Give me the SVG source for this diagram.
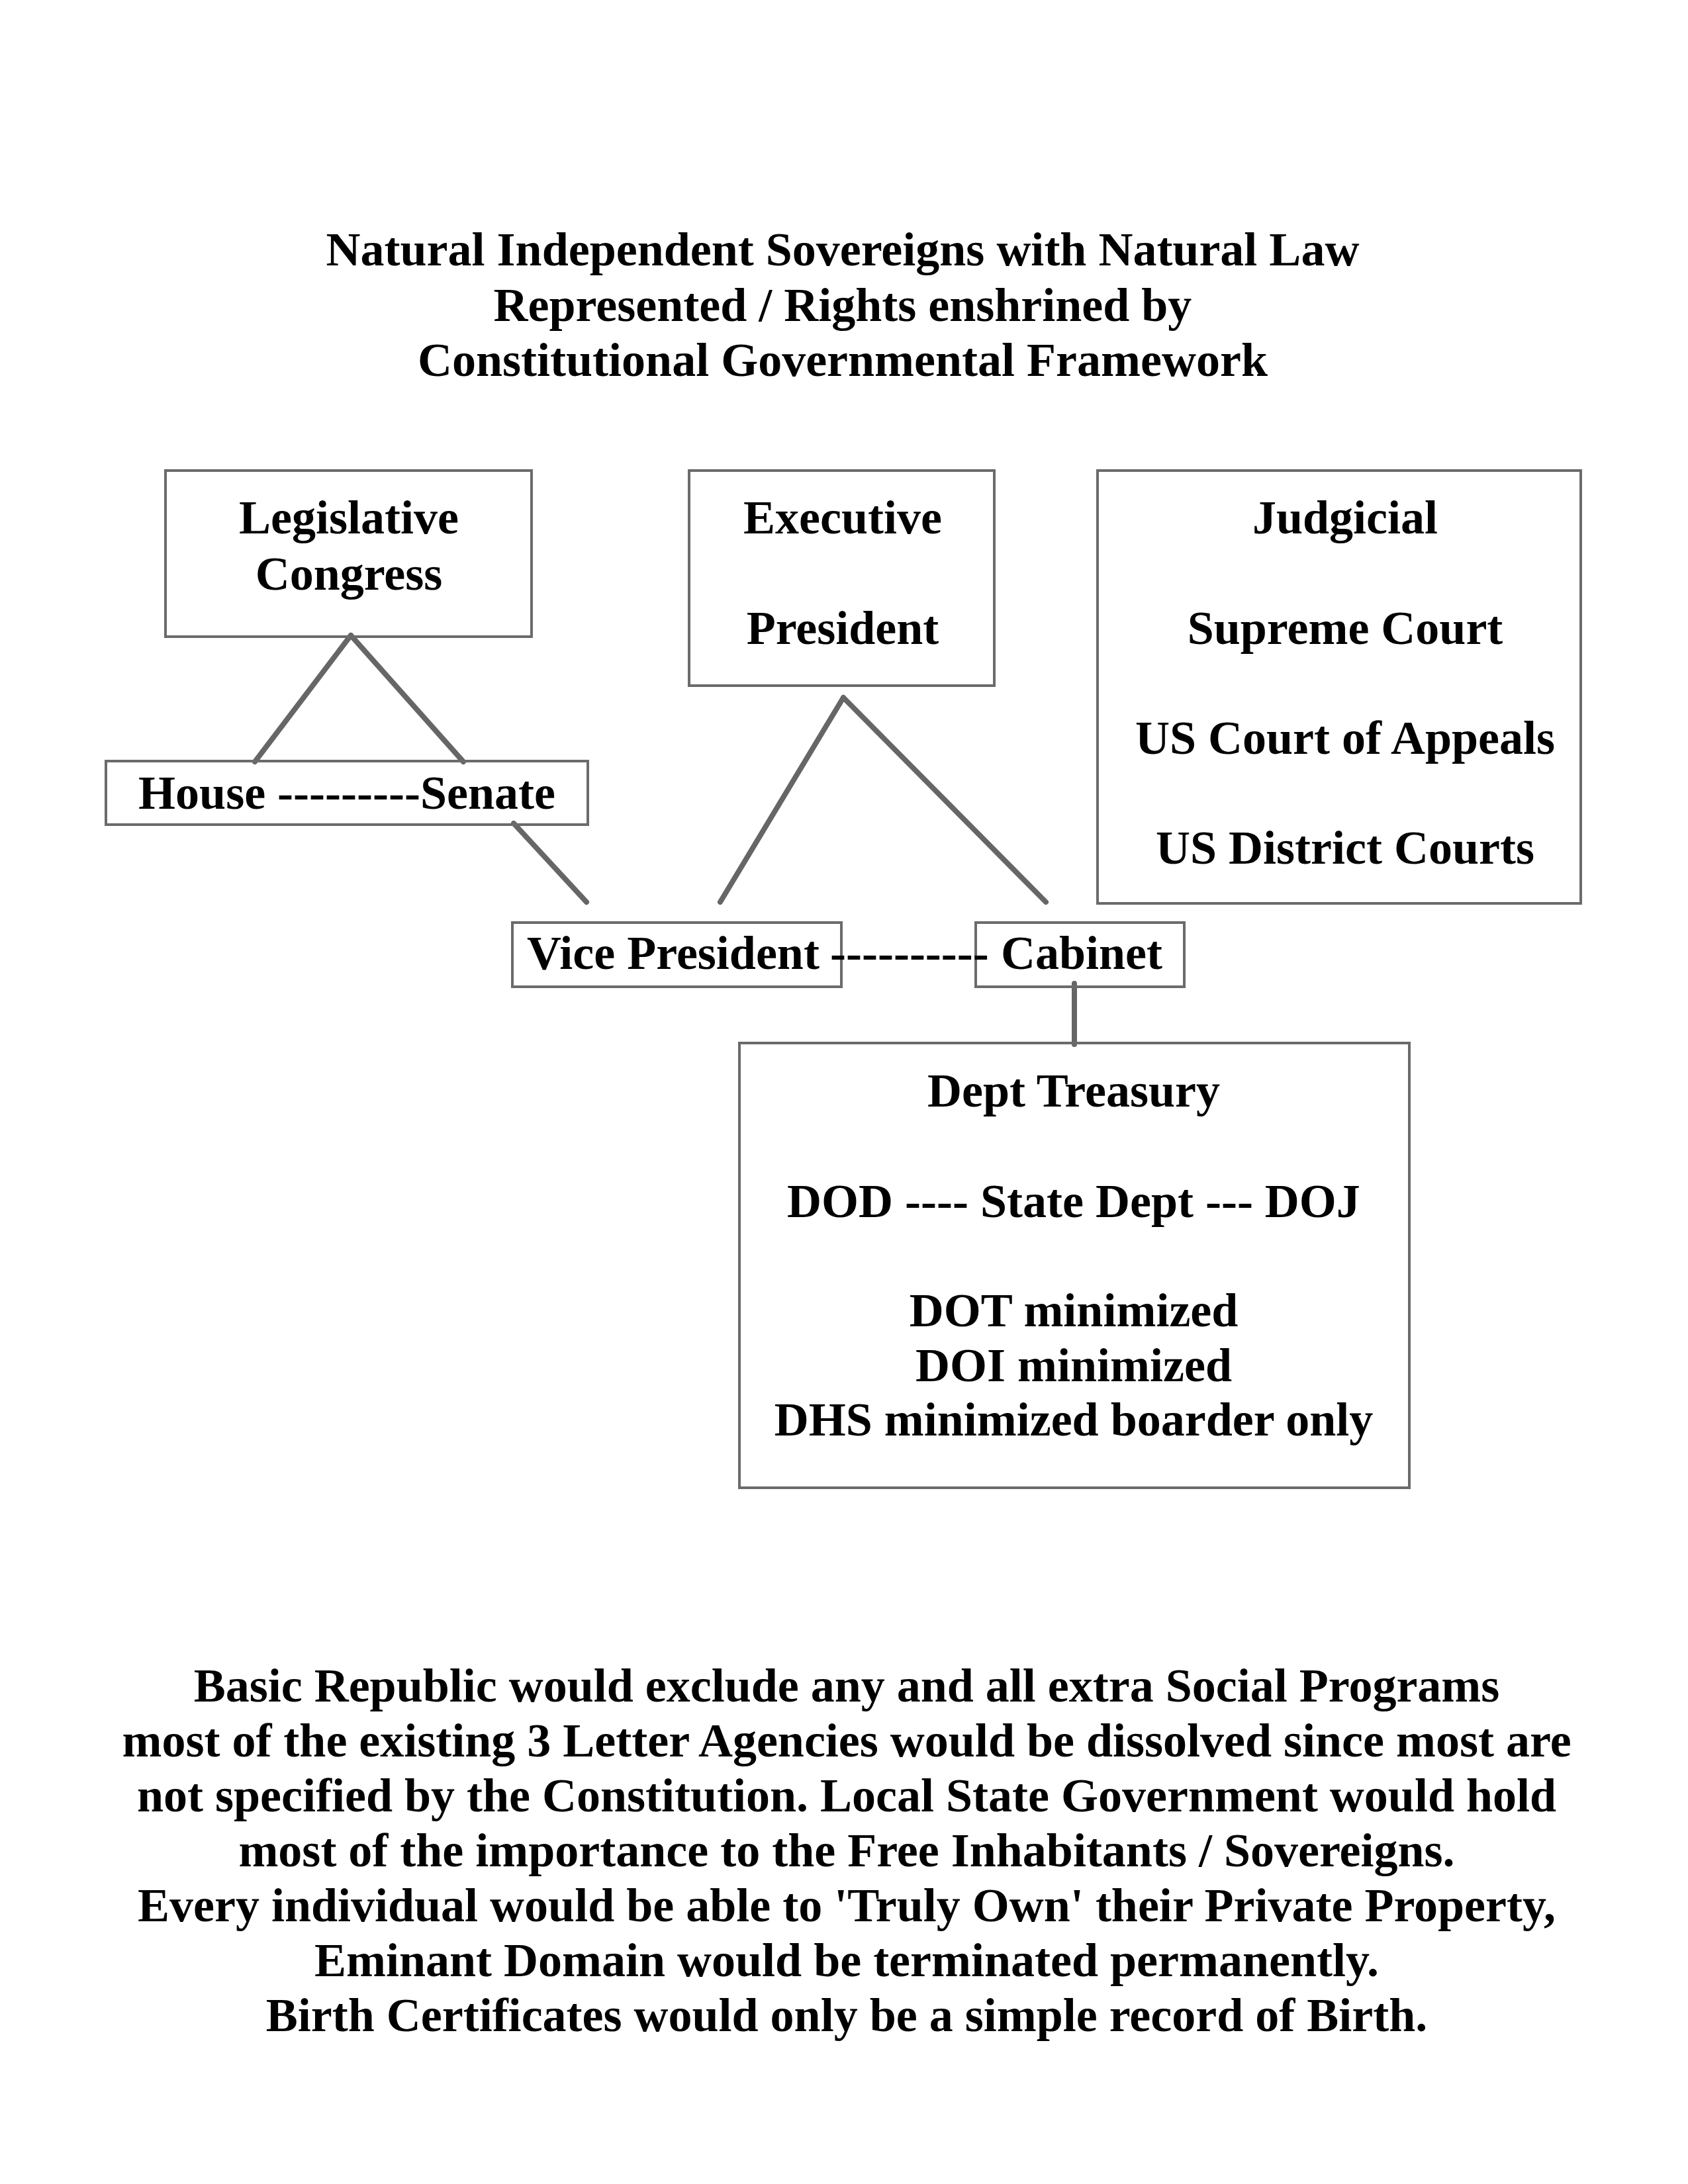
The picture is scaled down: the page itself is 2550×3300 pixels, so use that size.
<svg xmlns="http://www.w3.org/2000/svg" width="2550" height="3300" viewBox="0 0 2550 3300">
<style>
text{font-family:"Liberation Serif","Times New Roman",serif;font-weight:bold;font-size:72px;fill:#000;text-anchor:middle}
.box{fill:none;stroke:#6b6b6b;stroke-width:4}
.conn{stroke:#666;stroke-width:8;stroke-linecap:round;fill:none}
</style>
<rect width="2550" height="3300" fill="#fff"/>
<g id="title">
<text x="1273" y="401">Natural Independent Sovereigns with Natural Law</text>
<text x="1273" y="485">Represented / Rights enshrined by</text>
<text x="1273" y="568">Constitutional Governmental Framework</text>
</g>
<g id="connectors">
<line class="conn" x1="530" y1="960" x2="385" y2="1151"/>
<line class="conn" x1="530" y1="960" x2="700" y2="1151"/>
<line class="conn" x1="776" y1="1244" x2="886" y2="1363"/>
<line class="conn" x1="1274" y1="1054" x2="1088" y2="1363"/>
<line class="conn" x1="1274" y1="1054" x2="1580" y2="1363"/>
<line class="conn" x1="1623" y1="1486" x2="1623" y2="1578"/>
</g>
<g id="legislative">
<rect class="box" x="250" y="711" width="553" height="251"/>
<text x="527" y="806">Legislative</text>
<text x="527" y="891">Congress</text>
</g>
<g id="house-senate">
<rect class="box" x="160" y="1150" width="728" height="96"/>
<text x="524" y="1222">House ---------Senate</text>
</g>
<g id="executive">
<rect class="box" x="1041" y="711" width="461" height="325"/>
<text x="1273" y="806">Executive</text>
<text x="1273" y="973">President</text>
</g>
<g id="judicial">
<rect class="box" x="1658" y="711" width="730" height="654"/>
<text x="2032" y="806">Judgicial</text>
<text x="2032" y="973">Supreme Court</text>
<text x="2032" y="1139">US Court of Appeals</text>
<text x="2032" y="1305">US District Courts</text>
</g>
<g id="vice-president">
<rect class="box" x="774" y="1394" width="497" height="97"/>
</g>
<g id="cabinet">
<rect class="box" x="1474" y="1394" width="315" height="97"/>
</g>
<text style="text-anchor:start" y="1464"><tspan x="796">Vice President</tspan> <tspan x="1254">----------</tspan> <tspan x="1512">Cabinet</tspan></text>
<g id="departments">
<rect class="box" x="1117" y="1576" width="1012" height="672"/>
<text x="1622" y="1672">Dept Treasury</text>
<text x="1622" y="1839">DOD ---- State Dept --- DOJ</text>
<text x="1622" y="2004">DOT minimized</text>
<text x="1622" y="2087">DOI minimized</text>
<text x="1622" y="2169">DHS minimized boarder only</text>
</g>
<g id="notes">
<text x="1279" y="2571">Basic Republic would exclude any and all extra Social Programs</text>
<text x="1279" y="2654">most of the existing 3 Letter Agencies would be dissolved since most are</text>
<text x="1279" y="2737">not specified by the Constitution. Local State Government would hold</text>
<text x="1279" y="2820">most of the importance to the Free Inhabitants / Sovereigns.</text>
<text x="1279" y="2903">Every individual would be able to 'Truly Own' their Private Property,</text>
<text x="1279" y="2986">Eminant Domain would be terminated permanently.</text>
<text x="1279" y="3069">Birth Certificates would only be a simple record of Birth.</text>
</g>
</svg>
